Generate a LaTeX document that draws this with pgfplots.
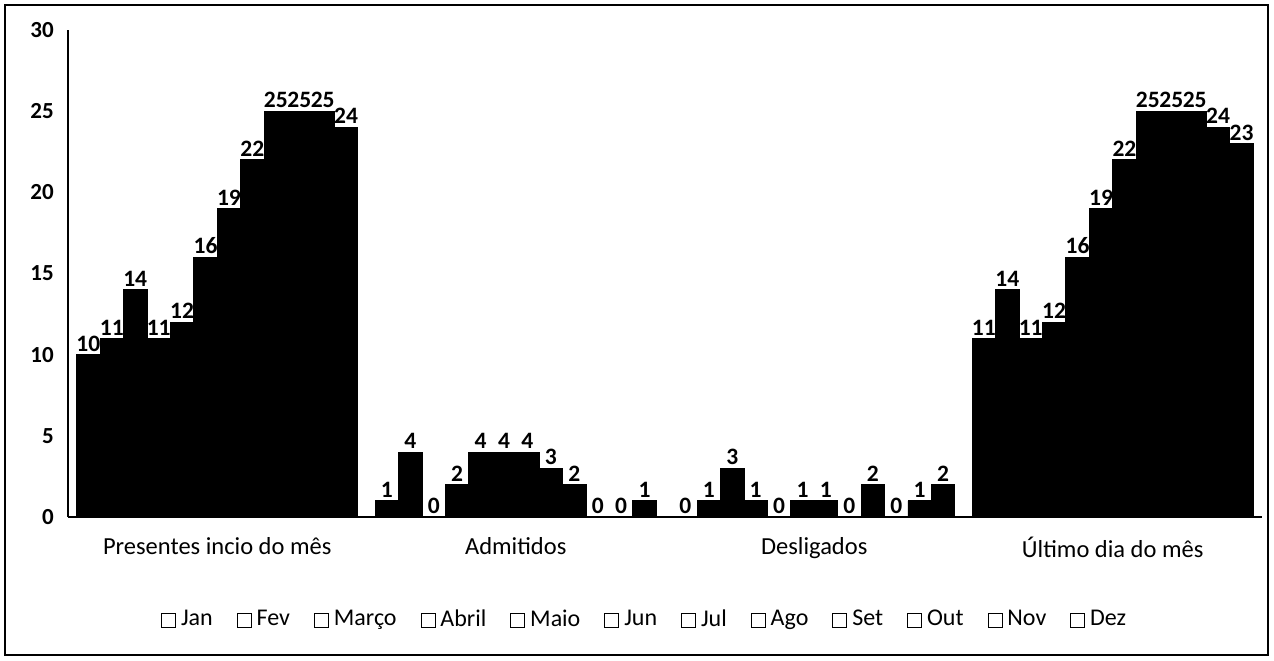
\documentclass[border=0pt]{standalone}
\usepackage{pgfplots}
\pgfplotsset{compat=1.18}
\usepackage{fontspec}
\setmainfont{Carlito}
\pgfplotsset{mybar/.style={fill=black, draw=black, line width=0.8bp, bar shift=0pt}}
\begin{document}
\fontsize{24bp}{28bp}\selectfont
\begin{tikzpicture}
\path (-68bp,-144bp) rectangle (1206bp,517bp);
\draw[line width=1.2bp] (-63bp,-138bp) rectangle (1200bp,512bp);
\begin{axis}[
  at={(0bp,0bp)}, anchor=south west,
  scale only axis, width=1194bp, height=487bp,
  /pgf/number format/assume math mode=true,
  ybar, bar width=0.0785,
  xmin=-0.5, xmax=3.5, ymin=0, ymax=30,
  ytick={0,5,...,30},
  xtick={0,1,2,3},
  xticklabels={Presentes incio do mês, Admitidos, Desligados, Último dia do mês},
  axis x line=bottom, axis y line=left,
  axis line style={-, line width=1.2bp},
  major tick length=0pt,
  tick label style={font=\fontsize{24.5bp}{28bp}\selectfont},
  yticklabel style={font=\fontsize{23bp}{27bp}\selectfont\bfseries, xshift=-6bp},
  xticklabel style={yshift=-12bp},
  nodes near coords,
  every node near coord/.append style={font=\fontsize{23.5bp}{27bp}\selectfont\bfseries, inner sep=1bp, yshift=2bp},
  legend columns=12,
  legend style={at={(0.483,-0.2115)}, anchor=center, draw=none, font=\fontsize{24bp}{28bp}\selectfont,
    /tikz/every odd column/.append style={column sep=3bp},
    /tikz/every even column/.append style={column sep=22bp}},
  legend image code/.code={\draw[black, fill=white, line width=0.9bp] (0bp,-7bp) rectangle (14bp,7bp);},
]
\addplot[mybar] coordinates {(-0.43175,10) (0.56825,1) (1.56825,0) (2.56825,11)};
\addplot[mybar] coordinates {(-0.35325,11) (0.64675,4) (1.64675,1) (2.64675,14)};
\addplot[mybar] coordinates {(-0.27475,14) (0.72525,0) (1.72525,3) (2.72525,11)};
\addplot[mybar] coordinates {(-0.19625,11) (0.80375,2) (1.80375,1) (2.80375,12)};
\addplot[mybar] coordinates {(-0.11775,12) (0.88225,4) (1.88225,0) (2.88225,16)};
\addplot[mybar] coordinates {(-0.03925,16) (0.96075,4) (1.96075,1) (2.96075,19)};
\addplot[mybar] coordinates {(0.03925,19) (1.03925,4) (2.03925,1) (3.03925,22)};
\addplot[mybar] coordinates {(0.11775,22) (1.11775,3) (2.11775,0) (3.11775,25)};
\addplot[mybar] coordinates {(0.19625,25) (1.19625,2) (2.19625,2) (3.19625,25)};
\addplot[mybar] coordinates {(0.27475,25) (1.27475,0) (2.27475,0) (3.27475,25)};
\addplot[mybar] coordinates {(0.35325,25) (1.35325,0) (2.35325,1) (3.35325,24)};
\addplot[mybar] coordinates {(0.43175,24) (1.43175,1) (2.43175,2) (3.43175,23)};
\legend{Jan, Fev, Março, Abril, Maio, Jun, Jul, Ago, Set, Out, Nov, Dez}
\end{axis}
\end{tikzpicture}
\end{document}
